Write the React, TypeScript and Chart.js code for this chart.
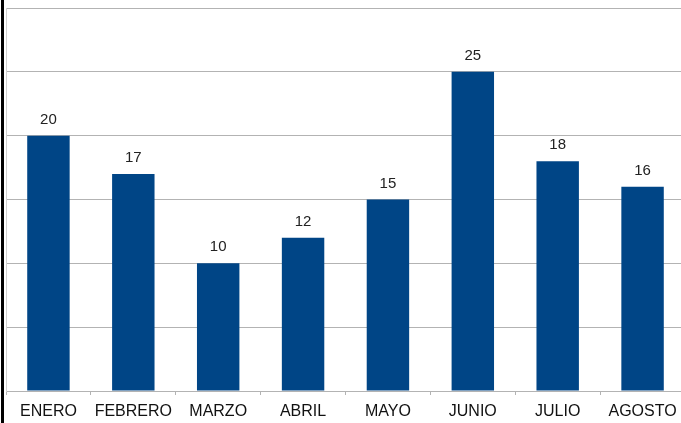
import React, { useEffect, useRef } from "react";
import { Chart, registerables } from "chart.js";

Chart.register(...registerables);

const categories = ["ENERO", "FEBRERO", "MARZO", "ABRIL", "MAYO", "JUNIO", "JULIO", "AGOSTO"];
const values = [20, 17, 10, 12, 15, 25, 18, 16];
const yMin = 0;
const yMax = 30;
const yStep = 5;

const valueLabels = {
  id: "valueLabels",
  afterDatasetsDraw(chart: any) {
    const ctx = chart.ctx;
    const meta = chart.getDatasetMeta(0);
    ctx.save();
    ctx.font = "15px 'Liberation Sans', Arial, sans-serif";
    ctx.fillStyle = "#222";
    ctx.textAlign = "center";
    ctx.textBaseline = "middle";
    meta.data.forEach((el: any, i: number) => {
      ctx.fillText(String(chart.data.datasets[0].data[i]), el.x, el.y - 16);
    });
    ctx.restore();
  },
};

export default function App() {
  const ref = useRef<HTMLCanvasElement>(null);
  useEffect(() => {
    if (!ref.current) return;
    const chart = new Chart(ref.current, {
      type: "bar",
      data: {
        labels: categories,
        datasets: [
          {
            data: values,
            backgroundColor: "#004586",
            barPercentage: 0.5,
            categoryPercentage: 1,
          },
        ],
      },
      options: {
        animation: false,
        responsive: false,
        maintainAspectRatio: false,
        layout: { padding: { left: 6, top: 8, right: 5, bottom: 0 } },
        plugins: { legend: { display: false }, tooltip: { enabled: false } },
        scales: {
          x: {
            afterFit(scale: any) {
              scale.height = 32;
            },
            grid: {
              drawOnChartArea: false,
              drawTicks: true,
              tickLength: 4,
              color: "#b3b3b3",
              offset: true,
            },
            border: { display: true, color: "#b3b3b3" },
            ticks: {
              color: "#111",
              padding: 7,
              font: { family: "'Liberation Sans', Arial, sans-serif", size: 16 },
              maxRotation: 0,
              autoSkip: false,
            },
          },
          y: {
            min: yMin,
            max: yMax,
            afterFit(scale: any) {
              scale.width = 0;
            },
            ticks: { display: false, stepSize: yStep },
            grid: { color: "#b3b3b3", drawTicks: false },
            border: { display: true, color: "#d0d0d0" },
          },
        },
      },
      plugins: [valueLabels],
    });
    return () => chart.destroy();
  }, []);
  return (
    <div
      style={{
        position: "fixed",
        left: 0,
        top: 0,
        width: 681,
        height: 423,
        overflow: "hidden",
        background: "#fff",
      }}
    >
      <canvas ref={ref} width={690} height={423} style={{ position: "absolute", left: 0, top: 0, width: 690, height: 423 }} />
      <div style={{ position: "absolute", left: 1, top: 0, width: 3, height: 423, background: "#000" }} />
    </div>
  );
}
